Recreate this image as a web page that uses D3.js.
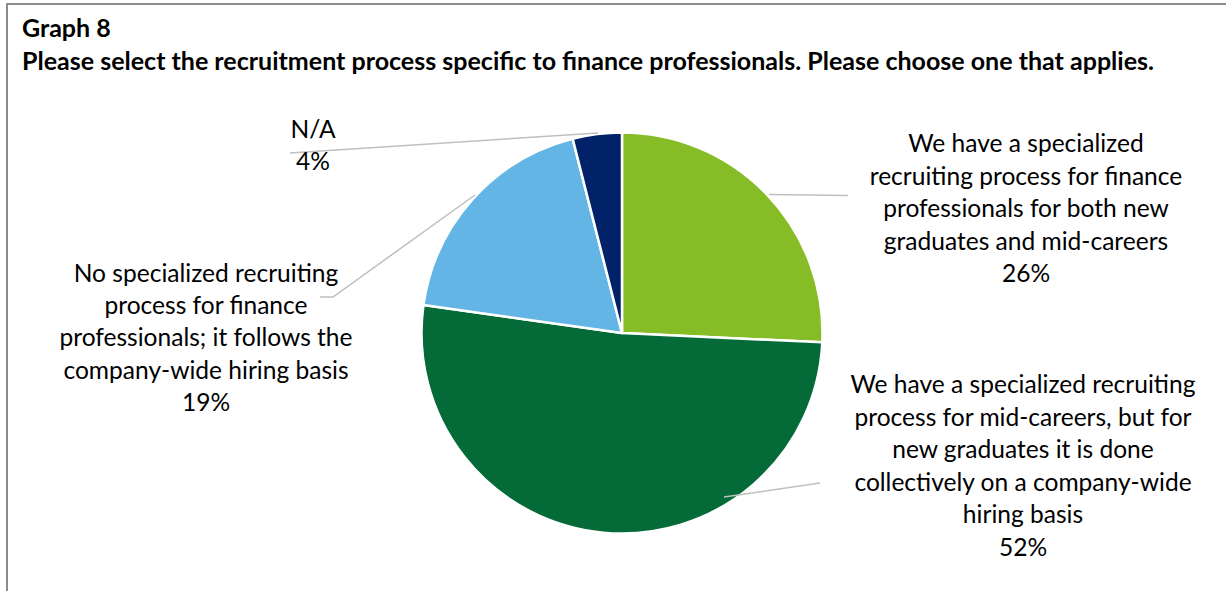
<!DOCTYPE html>
<html>
<head>
<meta charset="utf-8">
<script src="https://cdn.jsdelivr.net/npm/d3@7"></script>
<style>
  html, body { margin: 0; padding: 0; background: #ffffff; }
  svg { display: block; }
</style>
</head>
<body>
<svg id="chart" width="1226" height="591"></svg>
<script>
// Survey answers, in drawing order clockwise from 12 o'clock
const categories = [
  "We have a specialized recruiting process for finance professionals for both new graduates and mid-careers",
  "We have a specialized recruiting process for mid-careers, but for new graduates it is done collectively on a company-wide hiring basis",
  "No specialized recruiting process for finance professionals; it follows the company-wide hiring basis",
  "N/A"
];
const shares = [26, 52, 19, 4];
// Label text broken into display lines
const labelLines = [
  ["We have a specialized", "recruiting process for finance", "professionals for both new", "graduates and mid-careers"],
  ["We have a specialized recruiting", "process for mid-careers, but for", "new graduates it is done", "collectively on a company-wide", "hiring basis"],
  ["No specialized recruiting", "process for finance", "professionals; it follows the", "company-wide hiring basis"],
  ["N/A"]
];
const sliceColors = ["#86BC25", "#046A38", "#62B5E5", "#012169"];

const titleLines = [
  "Graph 8",
  "Please select the recruitment process specific to finance professionals. Please choose one that applies."
];

const svg = d3.select("#chart");
const FONT = "Lato, 'Open Sans', sans-serif";

// Frame
svg.append("path")
  .attr("d", "M7,591 V4 H1226")
  .attr("fill", "none")
  .attr("stroke", "#8c8c8c")
  .attr("stroke-width", 2);

// Fit a font size so a string spans the wanted width
function fitSize(text, width, weight) {
  const t = svg.append("text").attr("font-family", FONT).attr("font-weight", weight)
    .attr("font-size", 100).text(text);
  const w = t.node().getComputedTextLength();
  t.remove();
  return 100 * width / w;
}

// Title
const titleSize = fitSize(titleLines[1], 1133, "bold");
svg.selectAll("text.title").data(titleLines).join("text")
  .attr("class", "title")
  .attr("x", 22)
  .attr("y", (d, i) => i === 0 ? 37 : 70)
  .attr("font-family", FONT)
  .attr("font-weight", "bold")
  .attr("font-size", titleSize)
  .attr("fill", "#000")
  .text(d => d);

// Pie
const cx = 622, cy = 333, r = 200.5;
const pie = d3.pie().sort(null).value(d => d)(shares);
const arc = d3.arc().innerRadius(0).outerRadius(r);
const g = svg.append("g").attr("transform", `translate(${cx},${cy})`);
g.selectAll("path").data(pie).join("path")
  .attr("d", arc)
  .attr("fill", (d, i) => sliceColors[i])
  .attr("stroke", "#ffffff")
  .attr("stroke-width", 2.5)
  .attr("stroke-linejoin", "round");

// Leader lines from each label to its slice
const leaders = [
  [[848, 195.5], [769, 194.5]],
  [[820, 483], [724, 497]],
  [[320, 297], [333, 297], [475, 195]],
  [[290, 153], [598, 133]]
];
svg.selectAll("path.leader").data(leaders).join("path")
  .attr("class", "leader")
  .attr("d", d => d3.line()(d))
  .attr("fill", "none")
  .attr("stroke", "#bfbfbf")
  .attr("stroke-width", 1.5);

// Data labels: category text followed by the percentage
const labelSize = fitSize(labelLines[1][0], 345, "normal");
const labelPos = [
  { x: 1026, y: 152, step: 32.6 },
  { x: 1023, y: 393, step: 32.6 },
  { x: 206, y: 282, step: 32.2 },
  { x: 313, y: 138, step: 32 }
];
labelLines.forEach((lines, i) => {
  const all = lines.concat([shares[i] + "%"]);
  const p = labelPos[i];
  svg.append("text")
    .attr("font-family", FONT)
    .attr("font-size", labelSize)
    .attr("fill", "#000")
    .attr("text-anchor", "middle")
    .selectAll("tspan").data(all).join("tspan")
    .attr("x", p.x)
    .attr("y", (d, j) => p.y + j * p.step)
    .text(d => d);
});
</script>
</body>
</html>
